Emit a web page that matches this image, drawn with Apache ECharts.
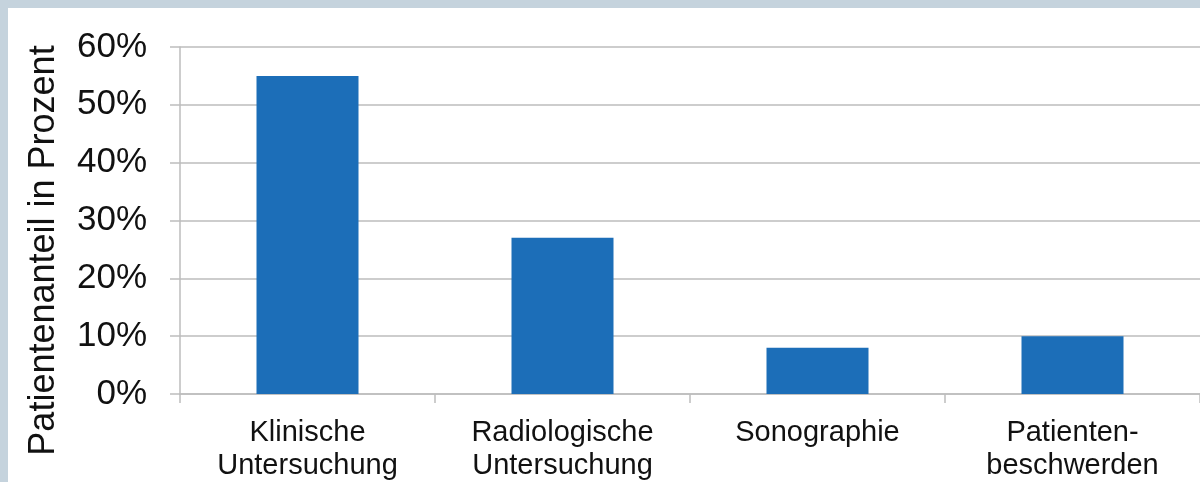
<!DOCTYPE html>
<html>
<head>
<meta charset="utf-8">
<script src="https://cdn.jsdelivr.net/npm/echarts@6/dist/echarts.min.js"></script>
<style>
  html, body { margin: 0; padding: 0; width: 1200px; height: 482px; background: #c5d3dd; overflow: hidden; }
  #chart { position: absolute; left: 8px; top: 8px; width: 1192px; height: 474px; background: #fff; }
</style>
</head>
<body>
<div id="chart"></div>
<script>
// Kategorien und Werte (Prozent)
const categories = ['Klinische\nUntersuchung', 'Radiologische\nUntersuchung', 'Sonographie', 'Patienten-\nbeschwerden']
const values = [55, 27, 8, 10]
const yTicks = [0, 10, 20, 30, 40, 50, 60]

const chart = echarts.init(document.getElementById('chart'))
chart.setOption({
  animation: false,
  grid: { left: 172, right: 0, top: 39, bottom: 88 },
  xAxis: {
    type: 'category',
    data: categories,
    axisLine: { show: true, lineStyle: { color: '#bdbdbd', width: 1.5 } },
    axisTick: { show: true, alignWithLabel: false, length: 9, lineStyle: { color: '#bdbdbd', width: 1.5 } },
    axisLabel: { color: '#111', fontFamily: 'Liberation Sans', fontSize: 29, lineHeight: 33, margin: 22 }
  },
  yAxis: {
    type: 'value',
    min: yTicks[0],
    max: yTicks[yTicks.length - 1],
    interval: 10,
    name: 'Patientenanteil in Prozent',
    nameLocation: 'middle',
    nameRotate: 90,
    nameGap: 118,
    nameTextStyle: { color: '#111', fontFamily: 'Liberation Sans', fontSize: 36, padding: [0, 60, 0, 0] },
    axisLine: { show: true, lineStyle: { color: '#bdbdbd', width: 1.5 } },
    axisTick: { show: true, length: 10, lineStyle: { color: '#bdbdbd', width: 1.5 } },
    splitLine: { lineStyle: { color: '#bdbdbd', width: 1.5 } },
    axisLabel: { color: '#111', fontFamily: 'Liberation Sans', fontSize: 35, margin: 33, formatter: '{value}%' }
  },
  series: [{
    type: 'bar',
    data: values,
    barWidth: '40%',
    itemStyle: { color: '#1c6eb8' }
  }]
})
</script>
</body>
</html>
